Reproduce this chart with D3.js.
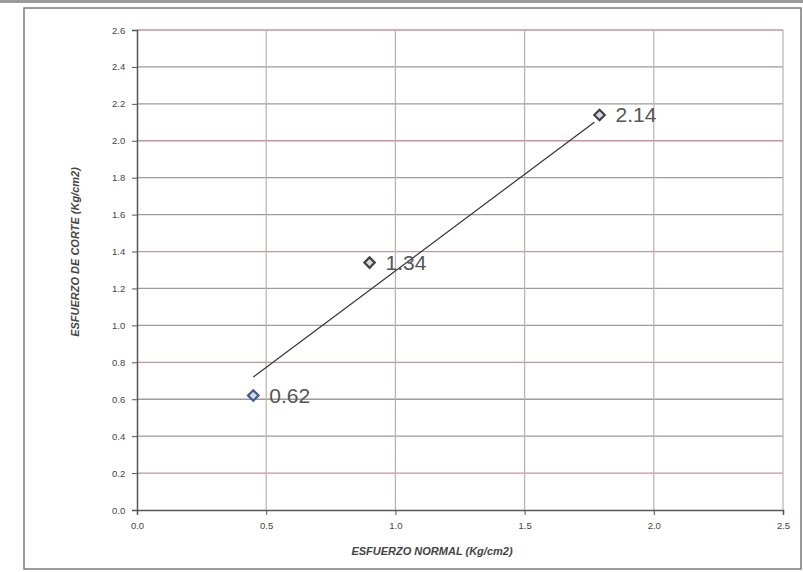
<!DOCTYPE html>
<meta charset="utf-8">
<script src="https://d3js.org/d3.v7.min.js"></script>
<style>
  body { margin: 0; background: #fff; }
  .tick text { fill: #444; font-family: "Liberation Sans", Arial, sans-serif; }
</style>
<body>
<div id="vis"></div>
<script>
// data
var normal = [0.45, 0.90, 1.79];      // esfuerzo normal (Kg/cm2)
var shear = [0.62, 1.34, 2.14];       // esfuerzo de corte (Kg/cm2)
var pointLabels = ["0.62", "1.34", "2.14"];
var trendX = [0.45, 1.77];
var trendY = [0.72, 2.10];
var xTicks = [0.0, 0.5, 1.0, 1.5, 2.0, 2.5];
var yTicks = [0.0, 0.2, 0.4, 0.6, 0.8, 1.0, 1.2, 1.4, 1.6, 1.8, 2.0, 2.2, 2.4, 2.6];

var W = 803, H = 572;
var margin = {top: 30, right: 20, bottom: 62, left: 137},
    width = 783 - margin.left,
    height = 510 - margin.top;

var root = d3.select("#vis").append("svg")
    .attr("width", W)
    .attr("height", H);

// scan edge + outer frame
root.append("rect").attr("x", 0).attr("y", 0).attr("width", W).attr("height", 3)
    .attr("fill", "#9a9a9a");
root.append("rect")
    .attr("x", 24).attr("y", 8).attr("width", 777).attr("height", 561)
    .attr("fill", "none").attr("stroke", "#7a7a7a").attr("stroke-width", 1.5);

var svg = root.append("g")
    .attr("transform", "translate(" + margin.left + "," + margin.top + ")");

var x = d3.scaleLinear().domain([0, 2.5]).range([0, width]);
var y = d3.scaleLinear().domain([0, 2.6]).range([height, 0]);

// grid lines
svg.append("g")
  .selectAll("line")
  .data(yTicks.slice(1))
  .enter()
  .append("line")
    .attr("x1", 0).attr("x2", width)
    .attr("y1", function(d) { return y(d); })
    .attr("y2", function(d) { return y(d); })
    .attr("stroke", function(d, i) { return i % 3 == 0 ? "#c4959d" : "#9f9a9b"; })
    .attr("stroke-width", 1.3);

svg.append("g")
  .selectAll("line")
  .data(xTicks.slice(1))
  .enter()
  .append("line")
    .attr("x1", function(d) { return x(d); })
    .attr("x2", function(d) { return x(d); })
    .attr("y1", 0).attr("y2", height)
    .attr("stroke", "#bfaeb1")
    .attr("stroke-width", 1.2);

// axes
var xAxis = svg.append("g")
    .attr("transform", "translate(0," + height + ")")
    .call(d3.axisBottom(x).tickValues(xTicks).tickSize(5).tickFormat(d3.format(".1f")));
var yAxis = svg.append("g")
    .call(d3.axisLeft(y).tickValues(yTicks).tickSize(5).tickFormat(d3.format(".1f")));

[xAxis, yAxis].forEach(function(a) {
  a.select(".domain").attr("stroke", "#555").attr("stroke-width", 1.5);
  a.selectAll(".tick line").attr("stroke", "#555");
  a.selectAll(".tick text").style("font-size", "9.5px");
});
xAxis.selectAll(".tick text").attr("dy", "1.2em");
yAxis.selectAll(".tick text").attr("dx", "-0.4em");

// axis titles
svg.append("text")
    .attr("x", 295)
    .attr("y", height + 45)
    .attr("text-anchor", "middle")
    .style("font-family", "Liberation Sans, Arial, sans-serif")
    .style("font-size", "11px")
    .style("font-style", "italic")
    .style("font-weight", "bold")
    .style("fill", "#444")
    .text("ESFUERZO NORMAL (Kg/cm2)");

svg.append("text")
    .attr("transform", "translate(-58," + (222) + ") rotate(-90)")
    .attr("text-anchor", "middle")
    .style("font-family", "Liberation Sans, Arial, sans-serif")
    .style("font-size", "11px")
    .style("font-style", "italic")
    .style("font-weight", "bold")
    .style("fill", "#444")
    .text("ESFUERZO DE CORTE (Kg/cm2)");

// trend line
svg.append("line")
    .attr("x1", x(trendX[0])).attr("y1", y(trendY[0]))
    .attr("x2", x(trendX[1])).attr("y2", y(trendY[1]))
    .attr("stroke", "#333")
    .attr("stroke-width", 1.2);

// points
var pts = normal.map(function(d, i) { return {x: d, y: shear[i], label: pointLabels[i]}; });
var diamond = d3.symbol().type(d3.symbolDiamond2).size(70);

svg.append("g")
  .selectAll("path")
  .data(pts)
  .enter()
  .append("path")
    .attr("d", diamond)
    .attr("transform", function(d) { return "translate(" + x(d.x) + "," + y(d.y) + ")"; })
    .attr("fill", "#d8d8e0")
    .attr("stroke", function(d, i) { return i == 0 ? "#3d5a8c" : "#444"; })
    .attr("stroke-width", 2.2);

svg.append("g")
  .selectAll("text")
  .data(pts)
  .enter()
  .append("text")
    .attr("x", function(d) { return x(d.x) + 16; })
    .attr("y", function(d) { return y(d.y); })
    .attr("dy", "0.36em")
    .style("font-family", "Liberation Sans, Arial, sans-serif")
    .style("font-size", "21px")
    .style("fill", "#555")
    .text(function(d) { return d.label; });
</script>
</body>
